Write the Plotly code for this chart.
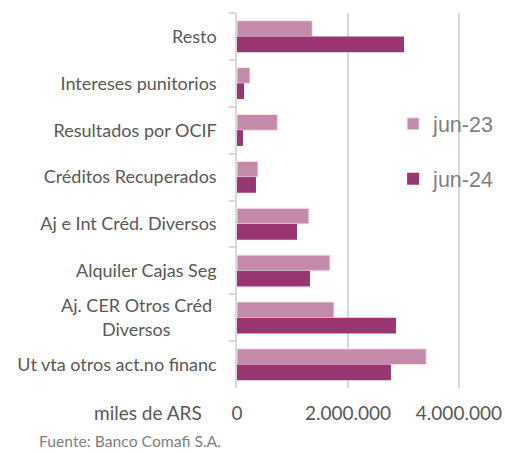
import plotly.graph_objects as go

categories = [
    "Resto",
    "Intereses punitorios",
    "Resultados por OCIF",
    "Créditos Recuperados",
    "Aj e Int Créd. Diversos",
    "Alquiler Cajas Seg",
    "Aj. CER Otros Créd <br>Diversos" + "\u00a0" * 10,
    "Ut vta otros act.no financ",
]
jun23 = [1357000, 234000, 727000, 378000, 1297000, 1676000, 1748000, 3410000]
jun24 = [3010000, 126000, 108000, 342000, 1081000, 1315000, 2865000, 2775000]
x_ticks = [0, 2000000, 4000000]
x_tick_labels = ["0", "2.000.000", "4.000.000"]

font = "Lato, 'Noto Sans', sans-serif"

fig = go.Figure()
fig.add_trace(go.Bar(
    y=categories, x=jun23, name="jun-23", orientation="h",
    marker=dict(color="#c48aaa", line=dict(color="#f3e3ec", width=1)),
    legendgroup="a",
))
fig.add_trace(go.Bar(
    y=categories, x=jun24, name="jun-24", orientation="h",
    marker=dict(color="#993671", line=dict(color="#f3e3ec", width=0)),
    legendgroup="b",
))

fig.update_layout(
    width=505, height=453,
    margin=dict(l=237, r=45, t=13, b=65, autoexpand=False),
    paper_bgcolor="white", plot_bgcolor="white",
    barmode="group", bargap=0.33, bargroupgap=0,
    font=dict(family=font, color="#595959"),
    legend=dict(
        x=0.70, y=0.759, xanchor="left", yanchor="top",
        font=dict(size=21.5, color="#808080", family="'Liberation Sans', Arial, sans-serif"),
        bgcolor="rgba(0,0,0,0)", tracegroupgap=24, traceorder="grouped",
        itemwidth=30,
    ),
    xaxis=dict(
        range=[0, 4020000], tickvals=x_ticks, ticktext=x_tick_labels,
        showgrid=True, gridcolor="#d9d9d9", gridwidth=1.5,
        zeroline=False, showline=False, ticks="",
        tickfont=dict(size=19, color="#595959"), ticklabelstandoff=12,
        fixedrange=True, automargin=False,
    ),
    yaxis=dict(
        autorange="reversed", tickson="boundaries", ticks="outside",
        ticklen=6, tickcolor="#d9d9d9", tickwidth=1.5,
        showline=True, linecolor="#d9d9d9", linewidth=1.5,
        tickfont=dict(size=18, color="#595959"), ticklabelstandoff=15,
        showgrid=False, automargin=False,
    ),
    annotations=[
        dict(text="miles de ARS", xref="paper", yref="paper", x=-0.147, y=-0.065,
             xanchor="right", yanchor="middle", showarrow=False,
             font=dict(size=19, color="#595959")),
        dict(text="Fuente: Banco Comafi S.A.", xref="paper", yref="paper", x=-0.898, y=-0.142,
             xanchor="left", yanchor="middle", showarrow=False,
             font=dict(size=15.7, color="#7f7f7f")),
    ],
)

# drop the default page margin so the figure sits at the window's corner
fig.write_html(
    "out.html",
    config={"displayModeBar": False},
    post_script="document.body.style.margin='0';document.body.style.overflow='hidden';",
)
